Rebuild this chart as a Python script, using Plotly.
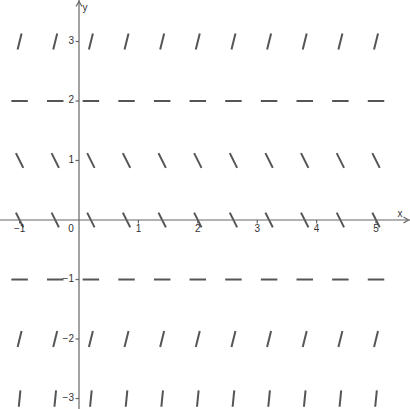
import plotly.graph_objects as go

# Slope field grid
grid_x = [-1.0, -0.4, 0.2, 0.8, 1.4, 2.0, 2.6, 3.2, 3.8, 4.4, 5.0]
grid_y = [3, 2, 1, 0, -1, -2, -3]
row_slopes = [4, 0, -2, -2, 0, 4, 10]   # dy/dx on each row

x_ticks = [-1, 1, 2, 3, 4, 5]
x_tick_text = ["\u22121", "1", "2", "3", "4", "5"]
y_ticks = [-3, -2, -1, 1, 2, 3]
y_tick_text = ["\u22123", "\u22122", "\u22121", "1", "2", "3"]

XR = [-1.330, 5.572]
YR = [-3.176, 3.697]
W, H = 410, 409
px_x = W / (XR[1] - XR[0])
px_y = H / (YR[1] - YR[0])
seg_len_px = 16.5

sx, sy = [], []
for y0, m in zip(grid_y, row_slopes):
    dxp, dyp = 1.0 * px_x, m * px_y
    n = (dxp ** 2 + dyp ** 2) ** 0.5
    hx = seg_len_px / 2 * dxp / n / px_x
    hy = seg_len_px / 2 * dyp / n / px_y
    for x0 in grid_x:
        sx += [x0 - hx, x0 + hx, None]
        sy += [y0 - hy, y0 + hy, None]

fig = go.Figure()
axis_col = "#666666"
fig.add_shape(type="line", x0=XR[0], x1=XR[1], y0=0, y1=0, line=dict(color=axis_col, width=1.2))
fig.add_shape(type="line", x0=0, x1=0, y0=YR[0], y1=YR[1], line=dict(color=axis_col, width=1.2))
ax_tip = XR[1] - 1.5 / px_x
fig.add_shape(type="path",
              path=f"M {ax_tip - 5/px_x},{3/px_y} L {ax_tip},0 L {ax_tip - 5/px_x},{-3/px_y}",
              line=dict(color=axis_col, width=1.2))
ay_tip = YR[1] - 1.5 / px_y
fig.add_shape(type="path",
              path=f"M {-3/px_x},{ay_tip - 5/px_y} L 0,{ay_tip} L {3/px_x},{ay_tip - 5/px_y}",
              line=dict(color=axis_col, width=1.2))

tx, ty = [], []
for v in x_ticks:
    tx += [v, v, None]
    ty += [0, -3.5 / px_y, None]
for v in y_ticks:
    tx += [0, -3.5 / px_x, None]
    ty += [v, v, None]
fig.add_trace(go.Scatter(x=tx, y=ty, mode="lines", line=dict(color=axis_col, width=1.2),
                         hoverinfo="skip", showlegend=False))

fig.add_trace(go.Scatter(x=sx, y=sy, mode="lines", line=dict(color="#555555", width=2),
                         hoverinfo="skip", showlegend=False))

font = dict(family="Liberation Sans, Arial, sans-serif", size=10, color="#333333")
fig.add_trace(go.Scatter(x=x_ticks, y=[-9.5 / px_y] * len(x_ticks), mode="text",
                         text=x_tick_text, textposition="middle center", textfont=font,
                         hoverinfo="skip", showlegend=False))
fig.add_trace(go.Scatter(x=[-5 / px_x] * len(y_ticks), y=y_ticks, mode="text",
                         text=y_tick_text, textposition="middle left", textfont=font,
                         hoverinfo="skip", showlegend=False))
fig.add_trace(go.Scatter(x=[-8 / px_x, XR[1] - 10 / px_x, 6 / px_x],
                         y=[-9.5 / px_y, 6 / px_y, YR[1] - 8 / px_y],
                         mode="text", text=["0", "x", "y"], textposition="middle center",
                         textfont=font, hoverinfo="skip", showlegend=False))

fig.update_layout(
    width=W, height=H, margin=dict(l=0, r=0, t=0, b=0),
    plot_bgcolor="white", paper_bgcolor="white",
    xaxis=dict(range=XR, visible=False, fixedrange=True),
    yaxis=dict(range=YR, visible=False, fixedrange=True),
    showlegend=False,
)
fig.write_html("out.html", config={"displayModeBar": False, "staticPlot": True},
               post_script="document.body.style.margin='0px';document.body.style.overflow='hidden';")
